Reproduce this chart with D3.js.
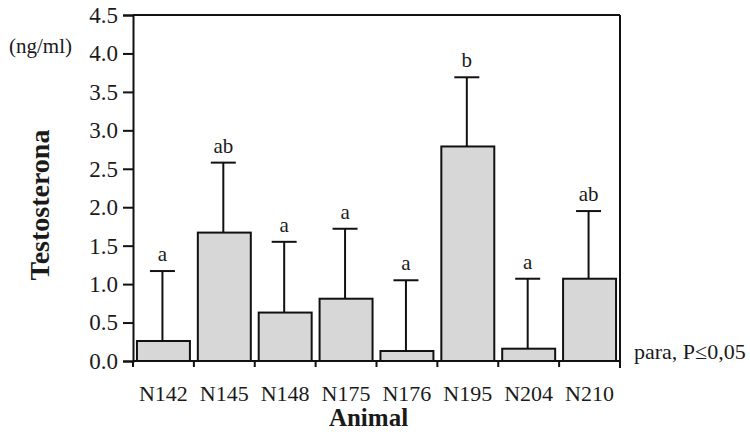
<!DOCTYPE html>
<html>
<head>
<meta charset="utf-8">
<script src="https://cdn.jsdelivr.net/npm/d3@7"></script>
<style>
body{margin:0;background:#fff;}
svg{display:block;}
text{font-family:"Liberation Serif","Times New Roman",serif;fill:#1a1a1a;}
</style>
</head>
<body>
<svg id="chart" width="750" height="434"></svg>
<script>
const animals = ["N142","N145","N148","N175","N176","N195","N204","N210"];
const means   = [0.26, 1.67, 0.63, 0.81, 0.13, 2.79, 0.16, 1.07];
const upper   = [1.17, 2.58, 1.55, 1.72, 1.05, 3.69, 1.07, 1.95];
const letters = ["a","ab","a","a","a","b","a","ab"];
const yTicks  = [0,0.5,1.0,1.5,2.0,2.5,3.0,3.5,4.0,4.5];

const SERIF = '"Liberation Serif","Times New Roman",serif';
const svg = d3.select("#chart");
const L = 133, R = 620, T = 15, B = 361;

const y = d3.scaleLinear().domain([0,4.5]).range([B,T]);
const x = d3.scaleBand().domain(animals).range([L,R]).paddingInner(0.13).paddingOuter(0.065);
const step = x.step();

const ink = "#111";

// bars
svg.append("g").selectAll("rect").data(animals).join("rect")
  .attr("x", d => x(d))
  .attr("y", (d,i) => y(means[i]))
  .attr("width", x.bandwidth())
  .attr("height", (d,i) => y(0) - y(means[i]))
  .attr("fill", "#d7d7d7")
  .attr("stroke", ink)
  .attr("stroke-width", 2);

// error bars
const eb = svg.append("g").attr("stroke", ink).attr("stroke-width", 2);
animals.forEach((d,i) => {
  const cx = x(d) + x.bandwidth()/2 - 1;
  eb.append("line").attr("x1",cx).attr("x2",cx).attr("y1",y(means[i])).attr("y2",y(upper[i]));
  eb.append("line").attr("x1",cx-12.5).attr("x2",cx+12.5).attr("y1",y(upper[i])).attr("y2",y(upper[i]));
  svg.append("text").attr("x",cx).attr("y",y(upper[i])-10)
    .attr("text-anchor","middle").attr("font-size",21).style("font-family",SERIF).text(letters[i]);
});

// y axis
const yAxis = svg.append("g").attr("transform",`translate(${L},0)`)
  .call(d3.axisLeft(y).tickValues(yTicks).tickFormat(d3.format(".1f")).tickSize(10).tickPadding(5));
yAxis.attr("font-family", null).attr("font-size", null);
yAxis.select(".domain").attr("stroke",ink).attr("stroke-width",2);
yAxis.selectAll(".tick line").attr("stroke",ink).attr("stroke-width",2);
yAxis.selectAll(".tick text").attr("font-size",23).style("font-family",SERIF).attr("fill","#1a1a1a");

// top and right frame
svg.append("line").attr("x1",L).attr("x2",R).attr("y1",T).attr("y2",T).attr("stroke",ink).attr("stroke-width",2);
svg.append("line").attr("x1",R).attr("x2",R).attr("y1",T).attr("y2",B+7).attr("stroke",ink).attr("stroke-width",2);

// x axis: line + boundary ticks
svg.append("line").attr("x1",L).attr("x2",R).attr("y1",B).attr("y2",B).attr("stroke",ink).attr("stroke-width",2);
const bounds = animals.map(d => x(d) - x.paddingInner()*step/2).concat([R]);
svg.append("g").selectAll("line").data(bounds).join("line")
  .attr("x1",d=>d).attr("x2",d=>d).attr("y1",B).attr("y2",B+6)
  .attr("stroke",ink).attr("stroke-width",2);
svg.append("g").selectAll("text").data(animals).join("text")
  .attr("x", d => x(d) + x.bandwidth()/2)
  .attr("y", 401)
  .attr("text-anchor","middle").attr("font-size",22).style("font-family",SERIF).text(d=>d);

// titles
svg.append("text").attr("x", (L+R)/2 - 8).attr("y", 426).attr("text-anchor","middle")
  .attr("font-size",25).attr("font-weight","bold").style("font-family",SERIF).text("Animal");
svg.append("text").attr("transform","translate(49,205) rotate(-90)").attr("text-anchor","middle")
  .attr("font-size",28).attr("font-weight","bold").style("font-family",SERIF).text("Testosterona");
svg.append("text").attr("x",9).attr("y",53).attr("font-size",21).style("font-family",SERIF).text("(ng/ml)");
svg.append("text").attr("x",634).attr("y",359).attr("font-size",22).style("font-family",SERIF).text("para, P≤0,05");
</script>
</body>
</html>
